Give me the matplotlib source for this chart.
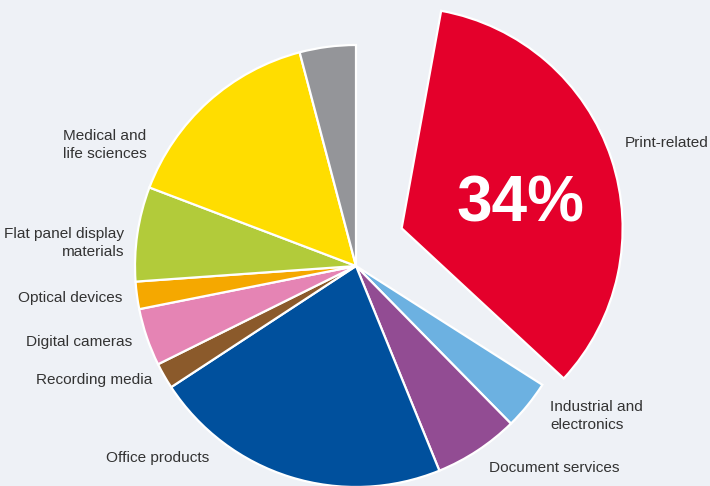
import numpy as np
import matplotlib
matplotlib.use("Agg")
import matplotlib.pyplot as plt

# ======= Data (share of sales, %) =======
segments = ["Print-related", "Industrial and\nelectronics", "Document services",
            "Office products", "Recording media", "Digital cameras",
            "Optical devices", "Flat panel display\nmaterials",
            "Medical and\nlife sciences", "Other"]
shares = [34, 3.6, 6.2, 21.9, 1.9, 4.2, 2.0, 6.9, 15.1, 4.1]
colors = ["#e4002b", "#6cb1e1", "#924c93", "#00509d", "#8b5a2b",
          "#e584b4", "#f5a800", "#b2cb3a", "#ffdd00", "#949599"]
big_label = "34%"

# ======= Layout (pixels of a 710x486 canvas) =======
W, H = 710, 486
R = 221.0            # pie radius in px
cx, cy = 356, 266    # pie centre in px (from top-left)
bg = "#eef1f6"
txt_col = "#333333"

fig = plt.figure(figsize=(W / 100, H / 100), dpi=100, facecolor=bg)
ax = fig.add_axes([0, 0, 1, 1])
ax.set_facecolor(bg)

wedges, _ = ax.pie(shares, colors=colors, startangle=90, counterclock=False,
                   radius=1.0, wedgeprops=dict(edgecolor="white", linewidth=1.6))

# pull the print-related slice out and turn it a bit
red = wedges[0]
red_turn = 10.3
red_shift, red_dir = 0.268, 39.6
red.set_theta1(red.theta1 - red_turn)
red.set_theta2(red.theta2 - red_turn)
red.set_center((red_shift * np.cos(np.radians(red_dir)),
                red_shift * np.sin(np.radians(red_dir))))

ax.set_xlim(-cx / R, (W - cx) / R)
ax.set_ylim(-(H - cy) / R, cy / R)
ax.set_aspect("auto")
ax.axis("off")


def px(x, y):
    return x / W, 1 - y / H


fs = 11.1
font = ["Liberation Sans", "DejaVu Sans"]
# labels: (index, x px, y px, ha)
label_pos = [
    (0, 625, 143, "left"),
    (1, 550, 416, "left"),
    (2, 489, 468, "left"),
    (3, 209, 458, "right"),
    (4, 152, 380, "right"),
    (5, 132, 342, "right"),
    (6, 122, 298, "right"),
    (7, 124, 243, "right"),
    (8, 63, 145, "left"),
]
for i, x, y, ha in label_pos:
    fig.text(*px(x, y), segments[i], ha=ha, va="center", fontsize=fs,
             color=txt_col, family=font, linespacing=1.35,
             multialignment=ha)

fig.text(*px(520, 204), big_label, ha="center", va="center", fontsize=46,
         fontweight="bold", color="white", family=font)

fig.savefig("out.png", dpi=100, facecolor=bg)
